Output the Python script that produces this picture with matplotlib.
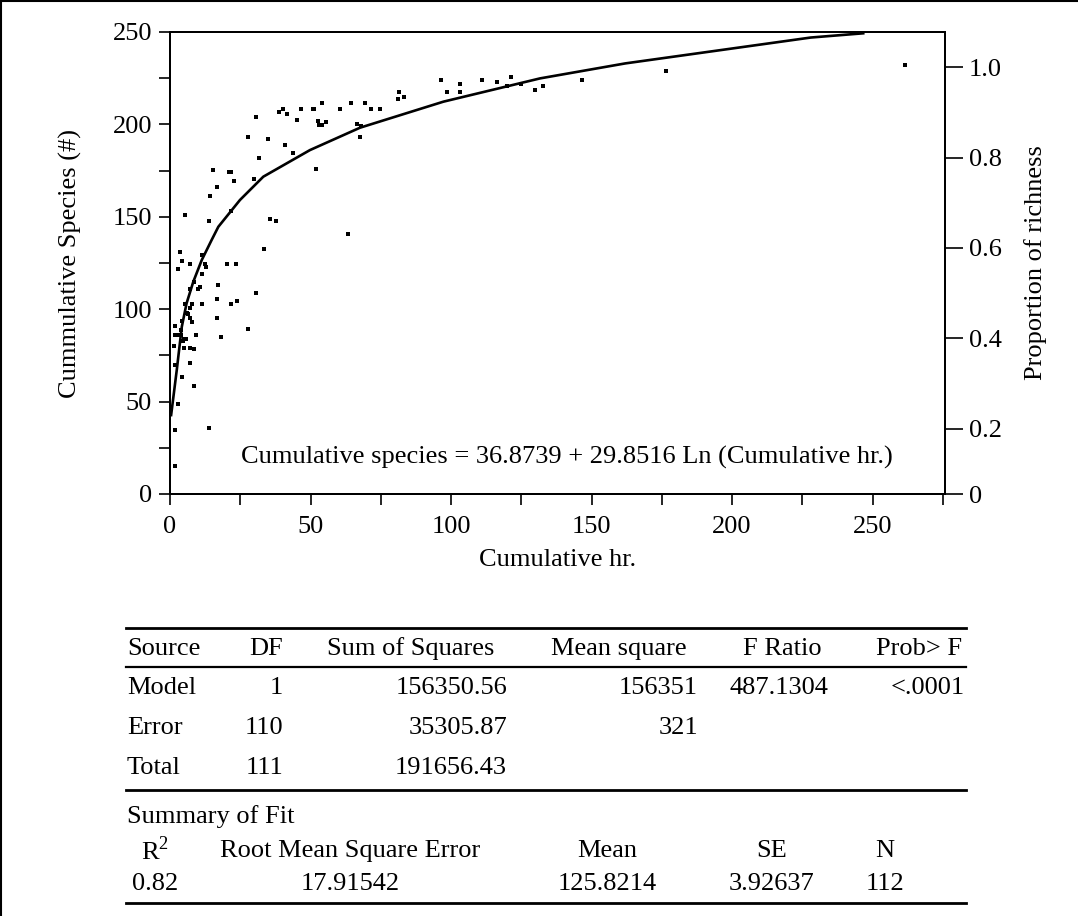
import matplotlib
matplotlib.use("Agg")
import matplotlib.pyplot as plt
from matplotlib.lines import Line2D
from matplotlib.ticker import MultipleLocator

plt.rcParams['font.family'] = ['Liberation Serif', 'DejaVu Serif']
plt.rcParams['mathtext.fontset'] = 'custom'
plt.rcParams['mathtext.rm'] = 'Liberation Serif'

# cumulative hours vs cumulative species observed
cum_hr = [30.5, 27.6, 35.0, 38.8, 40.2, 41.6, 45.3, 46.6, 51.0, 51.3, 54.1, 52.7,
          53.1, 54.2, 55.4, 60.5, 64.4, 66.5, 67.6, 40.9, 43.8, 31.8, 29.9, 51.8,
          15.3, 20.9, 21.7, 22.7, 16.7, 14.2, 21.7, 5.4, 13.9, 35.6, 37.7, 63.3,
          33.5, 3.6, 11.5, 4.3, 2.8, 7.1, 12.3, 12.9, 20.3, 23.4, 11.5, 8.5,
          10.7, 9.9, 7.1, 17.2, 30.6, 16.6, 23.8, 21.7, 11.5, 7.7, 5.2, 7.0,
          5.9, 6.5, 7.2, 7.8, 16.6, 4.3, 1.8, 27.6, 3.8, 1.7, 3.3, 4.0,
          9.1, 18.0, 5.0, 5.8, 4.5, 1.3, 4.9, 7.1, 8.4, 1.7, 7.1, 4.3,
          8.4, 2.8, 1.7, 13.9, 1.7, 69.4, 71.5, 68.0, 74.7, 81.6, 81.0, 83.3,
          96.5, 98.7, 103.1, 103.1, 110.9, 116.2, 121.2, 119.9, 124.9, 130.0, 132.9, 146.5,
          176.5, 261.6]
cum_species = [204, 193.4, 192, 206.9, 208.2, 205.8, 202.5, 208.2, 208.2, 208.2, 211.7, 202,
               199.5, 199.5, 201.5, 208.2, 211.7, 200.2, 193.3, 188.9, 184.4, 182, 170.3, 175.9,
               175.3, 174, 174.3, 169.2, 166, 161.4, 153.1, 151.1, 147.9, 148.6, 147.9, 140.9,
               132.6, 130.8, 129.3, 126.3, 121.6, 124.5, 124.5, 123, 124.5, 124.5, 119, 114.7,
               112.2, 110.9, 110.9, 113.3, 108.8, 105.3, 104.6, 103, 103, 103, 103, 100.8,
               97.8, 97.4, 95.4, 93.2, 95.4, 93.8, 90.9, 89.5, 88.6, 86.2, 86.2, 86.2,
               86.2, 85.1, 83.9, 83.9, 82.8, 80.3, 79.2, 79.2, 78.3, 70, 71, 63.5,
               58.6, 48.5, 34.8, 35.7, 15.3, 211.7, 208.2, 199.3, 208.2, 217.5, 213.7, 215,
               224.2, 217.4, 221.7, 217.4, 224.2, 223.1, 225.5, 220.8, 221.7, 218.8, 220.8, 224,
               229, 232.3]

# fitted curve vertices
fit_hr = [0.4, 2.4, 4.2, 5.9, 8.3, 11.3, 14.8, 17.2, 24.9, 33.2, 49.8, 67.6,
          97.3, 131.7, 162, 228, 246.7]
fit_species = [42.7, 67, 90.5, 103.2, 114.9, 126.6, 137.4, 144.6, 159.1, 171.7, 186.1, 198.2,
               212.3, 224.9, 233, 247, 249.3]

prop_ticks = [0.2, 0.4, 0.6, 0.8, 1.0]
prop_labels = ['0.2', '0.4', '0.6', '0.8', '1.0']

anova_header = ['Source', 'DF', 'Sum of Squares', 'Mean square', 'F Ratio', 'Prob> F']
anova_rows = [
    ['Model', '1', '156350.56', '156351', '487.1304', '<.0001'],
    ['Error', '110', '35305.87', '321', '', ''],
    ['Total', '111', '191656.43', '', '', ''],
]
fit_header = ['R$^2$', 'Root Mean Square Error', 'Mean', 'SE', 'N']
fit_values = ['0.82', '17.91542', '125.8214', '3.92637', '112']

W, H = 1078, 916
fig = plt.figure(figsize=(W / 100, H / 100), dpi=100)
fs = 19

def fx(px):
    return px / W

def fy(py):
    return 1 - py / H

ax = fig.add_axes([fx(170), fy(494), fx(945) - fx(170), fy(32) - fy(494)])
ax.scatter(cum_hr, cum_species, marker='s', s=11, color='black', linewidths=0, zorder=3)
ax.plot(fit_hr, fit_species, color='black', lw=1.9, zorder=2)
ax.set_xlim(0, 275.8)
ax.set_ylim(0, 250)
ax.xaxis.set_major_locator(MultipleLocator(50))
ax.xaxis.set_minor_locator(MultipleLocator(25))
ax.yaxis.set_major_locator(MultipleLocator(50))
ax.yaxis.set_minor_locator(MultipleLocator(25))
ax.tick_params(which='both', direction='out', width=1.2, labelsize=fs)
ax.tick_params(which='major', length=8, pad=5)
ax.tick_params(which='minor', length=8)
ax.tick_params(axis='x', pad=8)
for s in ax.spines.values():
    s.set_linewidth(1.4)
ax.set_xlabel('Cumulative hr.', fontsize=fs, labelpad=8)
ax.set_ylabel('Cummulative Species (#)', fontsize=fs, labelpad=22)
ax.text(0.512, 0.08, 'Cumulative species = 36.8739 + 29.8516 Ln (Cumulative hr.)',
        transform=ax.transAxes, ha='center', va='center', fontsize=fs)

# proportion axis on the right
ax2 = ax.twinx()
bottom = 0.055
ax2.set_ylim(bottom, bottom + 462 / 451.4)
ax2.set_yticks([bottom] + prop_ticks)
ax2.set_yticklabels(['0'] + prop_labels)
ax2.tick_params(direction='out', length=13, width=1.2, labelsize=fs, pad=4)
for s in ax2.spines.values():
    s.set_linewidth(1.4)
ax2.set_ylabel('Proportion of richness', fontsize=fs, labelpad=16)

# ANOVA table below the plot
def hline(py, lw=1.6):
    fig.add_artist(Line2D([fx(126), fx(966)], [fy(py), fy(py)], color='black', lw=lw))

hline(628, 2.0)
hline(667, 1.6)
hline(790, 2.0)
hline(903, 2.0)

head_y = 649
fig.text(fx(127), fy(head_y), anova_header[0], ha='left', va='center', fontsize=fs)
fig.text(fx(283), fy(head_y), anova_header[1], ha='right', va='center', fontsize=fs)
fig.text(fx(411), fy(head_y), anova_header[2], ha='center', va='center', fontsize=fs)
fig.text(fx(619), fy(head_y), anova_header[3], ha='center', va='center', fontsize=fs)
fig.text(fx(782), fy(head_y), anova_header[4], ha='center', va='center', fontsize=fs)
fig.text(fx(962), fy(head_y), anova_header[5], ha='right', va='center', fontsize=fs)

col_right = [None, 283, 507, 698, 828, 965]
for row, py in zip(anova_rows, [688, 728, 768]):
    fig.text(fx(127), fy(py), row[0], ha='left', va='center', fontsize=fs)
    for val, xr in zip(row[1:], col_right[1:]):
        if val:
            fig.text(fx(xr), fy(py), val, ha='right', va='center', fontsize=fs)

fig.text(fx(127), fy(817), 'Summary of Fit', ha='left', va='center', fontsize=fs)
fit_cols = [155, 350, 607, 772, 885]
for lab, val, xc in zip(fit_header, fit_values, fit_cols):
    fig.text(fx(xc), fy(851), lab, ha='center', va='center', fontsize=fs)
    fig.text(fx(xc), fy(884), val, ha='center', va='center', fontsize=fs)

# outer frame edges
fig.add_artist(Line2D([0, 1], [fy(1), fy(1)], color='black', lw=1.5))
fig.add_artist(Line2D([fx(1), fx(1)], [0, 1], color='black', lw=1.5))

fig.savefig('out.png', dpi=100)
